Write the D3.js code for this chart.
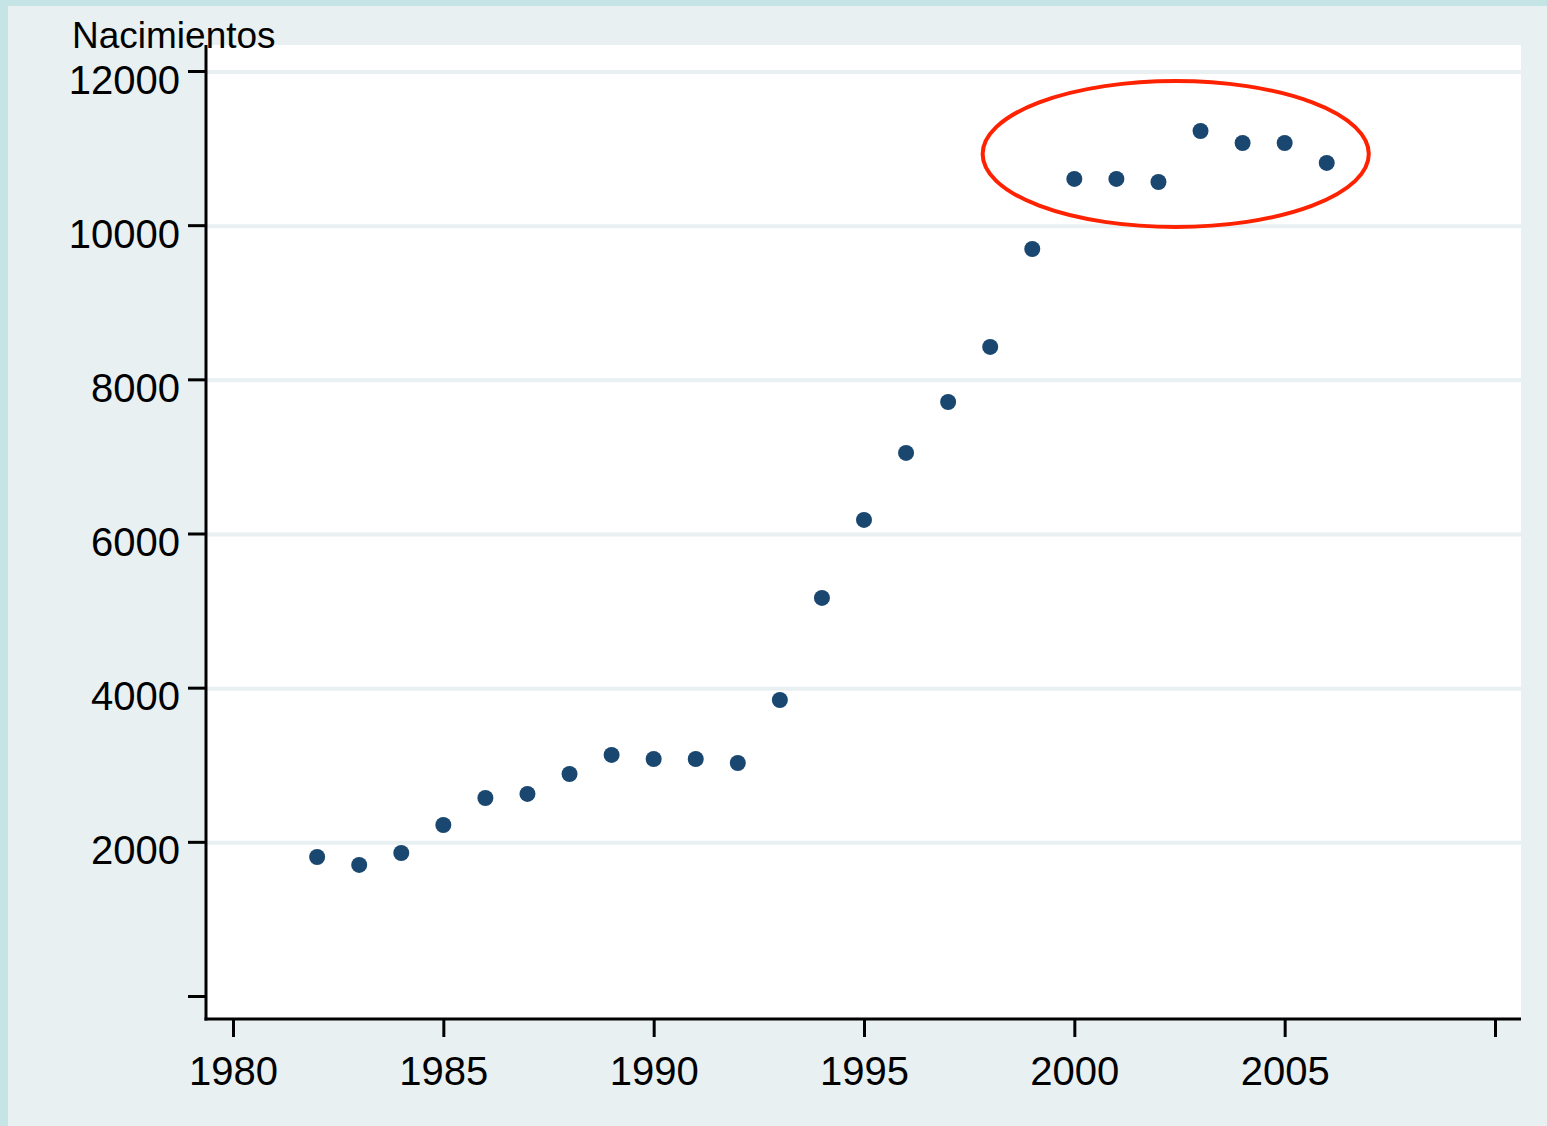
<!DOCTYPE html>
<html>
<head>
<meta charset="utf-8">
<style>
  body { margin: 0; background: #e8f0f2; }
  svg { display: block; }
  text { font-family: "Liberation Sans", Arial, sans-serif; fill: #000; }
</style>
</head>
<body>
<svg width="1547" height="1126"></svg>
<script src="https://cdn.jsdelivr.net/npm/d3@7"></script>
<script>

var years = [1982, 1983, 1984, 1985, 1986, 1987, 1988, 1989, 1990, 1991, 1992, 1993,
             1994, 1995, 1996, 1997, 1998, 1999, 2000, 2001, 2002, 2003, 2004, 2005, 2006];
var births = [1803, 1700, 1855, 2218, 2569, 2621, 2880, 3127, 3075, 3075, 3023, 3840,
              5164, 6176, 7045, 7706, 8420, 9691, 10600, 10600, 10560, 11222, 11066, 11066, 10807];
var xTicks = [1980, 1985, 1990, 1995, 2000, 2005, 2010];
var xLabels = ["1980", "1985", "1990", "1995", "2000", "2005", ""];
var yTicks = [0, 2000, 4000, 6000, 8000, 10000, 12000];
var yLabels = ["", "2000", "4000", "6000", "8000", "10000", "12000"];
var yTitle = "Nacimientos";
// highlighted cluster: centre (year, births) and half-widths
var ringCenter = [2002.41, 10923];
var ringRadius = [4.59, 947];

var svg = d3.select("svg"),
    W = +svg.attr("width"),
    H = +svg.attr("height");

var plot = {left: 206, right: 1521, top: 45, bottom: 1019};

var x = d3.scaleLinear().domain([1980, 2010]).range([233, 1495]);
var y = d3.scaleLinear().domain([0, 12000]).range([996, 71]);

// background + outer stripes
svg.append("rect").attr("width", W).attr("height", H).attr("fill", "#e8f0f2");
svg.append("rect").attr("width", W).attr("height", 6).attr("fill", "#c4e4e6");
svg.append("rect").attr("width", 8).attr("height", H).attr("fill", "#c4e4e6");

// plot region
svg.append("rect")
    .attr("x", plot.left).attr("y", plot.top)
    .attr("width", plot.right - plot.left)
    .attr("height", plot.bottom - plot.top)
    .attr("fill", "#fff");

// gridlines
svg.append("g").selectAll("line")
    .data(yTicks.filter(function(d) { return d > 0; }))
  .enter().append("line")
    .attr("x1", plot.left).attr("x2", plot.right)
    .attr("y1", function(d) { return y(d) + 1; })
    .attr("y2", function(d) { return y(d) + 1; })
    .attr("stroke", "#e8f0f2")
    .attr("stroke-width", 4);

// y axis
var yAxis = svg.append("g")
    .attr("transform", "translate(" + plot.left + ",0)")
    .call(d3.axisLeft(y).tickValues(yTicks).tickSize(18)
      .tickFormat(function(d, i) { return yLabels[i]; }));
yAxis.select(".domain").remove();
yAxis.selectAll(".tick line").attr("stroke", "#000").attr("stroke-width", 3);
yAxis.selectAll(".tick text")
    .attr("x", -26).attr("dy", null).attr("y", 22)
    .style("font-family", "Liberation Sans, Arial, sans-serif")
    .style("font-size", "40px").attr("fill", "#000");

// x axis
var xAxis = svg.append("g")
    .attr("transform", "translate(0," + plot.bottom + ")")
    .call(d3.axisBottom(x).tickValues(xTicks).tickSize(18)
      .tickFormat(function(d, i) { return xLabels[i]; }));
xAxis.select(".domain").remove();
xAxis.selectAll(".tick line").attr("stroke", "#000").attr("stroke-width", 3);
xAxis.selectAll(".tick text")
    .attr("dy", null).attr("y", 66)
    .style("font-family", "Liberation Sans, Arial, sans-serif")
    .style("font-size", "40px").attr("fill", "#000");

// axis lines
svg.append("line")
    .attr("x1", plot.left).attr("x2", plot.left)
    .attr("y1", plot.top).attr("y2", plot.bottom + 1.5)
    .attr("stroke", "#000").attr("stroke-width", 3);
svg.append("line")
    .attr("x1", plot.left - 1.5).attr("x2", plot.right)
    .attr("y1", plot.bottom).attr("y2", plot.bottom)
    .attr("stroke", "#000").attr("stroke-width", 3);

// y title
svg.append("text")
    .attr("x", 72).attr("y", 48)
    .style("font-size", "37px")
    .text(yTitle);

// points
svg.append("g").selectAll("circle")
    .data(years)
  .enter().append("circle")
    .attr("cx", function(d) { return x(d); })
    .attr("cy", function(d, i) { return y(births[i]); })
    .attr("r", 8)
    .attr("fill", "#1a476f");

// highlight ellipse
svg.append("ellipse")
    .attr("cx", x(ringCenter[0]))
    .attr("cy", y(ringCenter[1]))
    .attr("rx", x(ringCenter[0] + ringRadius[0]) - x(ringCenter[0]))
    .attr("ry", y(ringCenter[1] - ringRadius[1]) - y(ringCenter[1]))
    .attr("fill", "none")
    .attr("stroke", "#ff2200")
    .attr("stroke-width", 4);

</script>
</body>
</html>
